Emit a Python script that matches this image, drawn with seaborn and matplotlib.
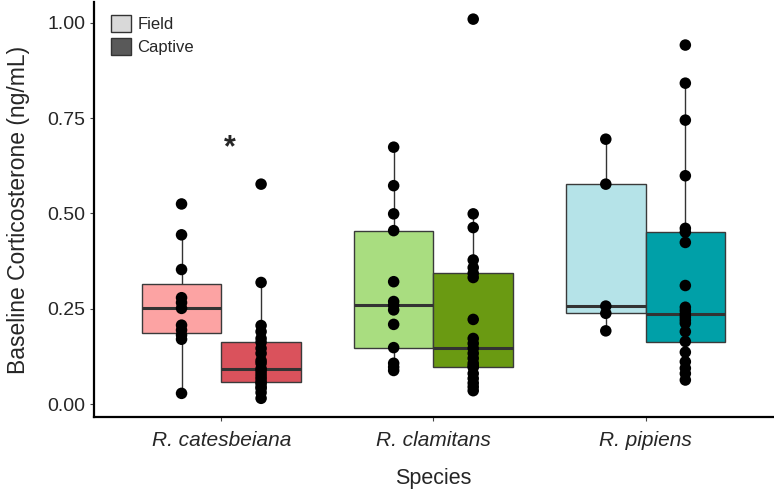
import numpy as np
import pandas as pd
import seaborn as sns
import matplotlib.pyplot as plt
from matplotlib.patches import Patch

species = ["R. catesbeiana", "R. clamitans", "R. pipiens"]
conditions = ["Field", "Captive"]

# baseline corticosterone (ng/mL)
cat_field = [0.028, 0.170, 0.181, 0.194, 0.207, 0.251, 0.266, 0.279, 0.353, 0.444, 0.525]
cat_captive = [0.015, 0.030, 0.041, 0.045, 0.054, 0.057, 0.065, 0.072, 0.080, 0.088, 0.093,
               0.107, 0.114, 0.133, 0.146, 0.162, 0.172, 0.190, 0.206, 0.319, 0.577]
clam_field = [0.088, 0.097, 0.107, 0.148, 0.209, 0.247, 0.259, 0.269, 0.321, 0.455,
              0.499, 0.573, 0.674]
clam_captive = [0.035, 0.045, 0.055, 0.067, 0.080, 0.096, 0.100, 0.107, 0.120, 0.133, 0.146,
                0.159, 0.172, 0.222, 0.332, 0.343, 0.358, 0.378, 0.463, 0.499, 1.010]
pip_field = [0.192, 0.238, 0.257, 0.577, 0.695]
pip_captive = [0.063, 0.080, 0.094, 0.111, 0.136, 0.164, 0.190, 0.212, 0.220, 0.228, 0.236,
               0.245, 0.254, 0.311, 0.424, 0.451, 0.461, 0.599, 0.745, 0.842, 0.942]

box_colors = {
    ("R. catesbeiana", "Field"): "#FCA3A3",
    ("R. catesbeiana", "Captive"): "#DA525C",
    ("R. clamitans", "Field"): "#A9DD80",
    ("R. clamitans", "Captive"): "#6A9A12",
    ("R. pipiens", "Field"): "#B5E3E8",
    ("R. pipiens", "Captive"): "#00A0A8",
}

groups = [
    ("R. catesbeiana", "Field", cat_field),
    ("R. catesbeiana", "Captive", cat_captive),
    ("R. clamitans", "Field", clam_field),
    ("R. clamitans", "Captive", clam_captive),
    ("R. pipiens", "Field", pip_field),
    ("R. pipiens", "Captive", pip_captive),
]
rows = []
for sp, cond, vals in groups:
    for v in vals:
        rows.append({"species": sp, "cond": cond, "cort": v})
df = pd.DataFrame(rows)

sns.set_style("white")
plt.rcParams["font.family"] = ["Liberation Sans", "DejaVu Sans"]

fig = plt.figure(figsize=(7.74, 4.97), dpi=100)
ax = fig.add_axes([0.1215, 0.161, 0.877, 0.835])

sns.boxplot(data=df, x="species", y="cort", hue="cond", order=species, hue_order=conditions,
            width=0.75, gap=0, dodge=True, showfliers=False, showcaps=False,
            linecolor="#333333", linewidth=1, legend=False, ax=ax,
            medianprops=dict(color="#333333", linewidth=2.2))

# colour each box by species / condition
for p in ax.patches:
    xs = p.get_path().vertices[:, 0]
    xc = xs.mean()
    i = int(round(xc))
    cond = "Field" if xc < i else "Captive"
    p.set_facecolor(box_colors[(species[i], cond)])
    p.set_edgecolor("#3a3a3a")

n_before = len(ax.collections)
sns.stripplot(data=df, x="species", y="cort", hue="cond", order=species, hue_order=conditions,
              dodge=True, jitter=False, palette=["black", "black"], size=8.3,
              linewidth=0, legend=False, ax=ax, zorder=4)
# line points up with box centres (boxes are 0.375 wide, strips are dodged by 0.4)
for coll in ax.collections[n_before:]:
    off = coll.get_offsets()
    if len(off):
        c = np.round(off[:, 0])
        off[:, 0] = c + (off[:, 0] - c) * 0.9375
        coll.set_offsets(off)

ax.text(0.04, 0.672, "*", ha="center", va="center", fontsize=22, fontweight="bold")

ax.set_xlim(-0.6, 2.6)
ax.set_ylim(-0.034, 1.055)
ax.set_yticks([0, 0.25, 0.5, 0.75, 1.0])
ax.set_yticklabels(["0.00", "0.25", "0.50", "0.75", "1.00"])
sns.despine(ax=ax)
for s in ["left", "bottom"]:
    ax.spines[s].set_linewidth(1.6)
    ax.spines[s].set_color("black")
ax.tick_params(axis="both", length=3, width=0.8, color="#444444", pad=3, labelsize=14,
               left=True, bottom=True)
ax.tick_params(axis="x", labelsize=15, pad=7)
for lbl in ax.get_xticklabels():
    lbl.set_fontstyle("italic")
ax.set_xlabel("Species", fontsize=15.5, labelpad=13)
ax.set_ylabel("Baseline Corticosterone (ng/mL)", fontsize=16.5, labelpad=13)

handles = [Patch(facecolor="#D9D9D9", edgecolor="#333333", label="Field"),
           Patch(facecolor="#595959", edgecolor="#333333", label="Captive")]
ax.legend(handles=handles, loc="upper left", bbox_to_anchor=(0.0, 1.01), frameon=False,
          fontsize=12, handlelength=1.2, handleheight=1.2, handletextpad=0.4,
          labelspacing=0.35, borderaxespad=0.6)

fig.savefig("out.png", dpi=100)
